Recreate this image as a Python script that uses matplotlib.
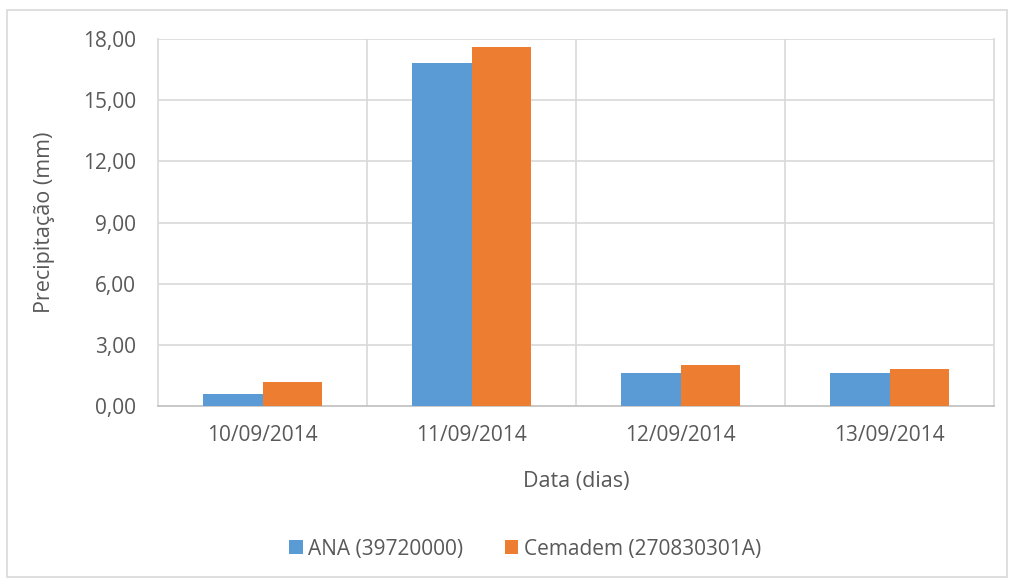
import matplotlib
matplotlib.use("Agg")
import matplotlib.pyplot as plt
from matplotlib.patches import Rectangle
import numpy as np

plt.rcParams['font.family'] = ['Open Sans', 'DejaVu Sans']

datas = ['10/09/2014', '11/09/2014', '12/09/2014', '13/09/2014']
ana = [0.6, 16.8, 1.6, 1.6]
cemadem = [1.2, 17.6, 2.0, 1.8]
series_names = ['ANA (39720000)', 'Cemadem (270830301A)']
yticks = [0, 3, 6, 9, 12, 15, 18]

cor_ana = '#5b9bd5'
cor_cem = '#ed7d31'
cor_txt = '#595959'
cor_grid = '#d9d9d9'

W, H = 1009, 579
fig = plt.figure(figsize=(W / 100, H / 100), dpi=100)
# posicao da area de plotagem em pixels
left, right, top, bottom = 158, 994, 39, 406
ax = fig.add_axes([left / W, 1 - bottom / H, (right - left) / W, (bottom - top) / H])

# borda externa do grafico
fig.patches.append(Rectangle((7 / W, 2 / H), 1000 / W, 567 / H, transform=fig.transFigure,
                             fill=False, edgecolor=cor_grid, linewidth=1.2))

x = np.arange(len(datas))
w = 0.286
ax.bar(x - w / 2, ana, w, color=cor_ana, label=series_names[0], zorder=3)
ax.bar(x + w / 2, cemadem, w, color=cor_cem, label=series_names[1], zorder=3)

ax.set_xlim(-0.5, len(datas) - 0.5)
ax.set_ylim(0, 18)
ax.set_yticks(yticks)
ax.set_yticklabels([f'{v:.2f}'.replace('.', ',') for v in yticks])
ax.set_xticks(x)
ax.set_xticklabels(datas)

# linhas de grade: horizontais e separadores de categoria
for v in yticks[1:]:
    ax.axhline(v, color=cor_grid, linewidth=1.2, zorder=1)
for b in np.arange(0.5, len(datas) - 0.5, 1):
    ax.axvline(b, color=cor_grid, linewidth=1.2, zorder=1)

ax.spines['top'].set_visible(False)
for s in ['left', 'bottom', 'right']:
    ax.spines[s].set_color(cor_grid)
    ax.spines[s].set_linewidth(1.2)
ax.spines['bottom'].set_color('#bfbfbf')

ax.tick_params(axis='both', length=0, labelsize=15, colors=cor_txt)
ax.tick_params(axis='y', pad=16)
ax.tick_params(axis='x', pad=14)

ax.set_xlabel('Data (dias)', fontsize=15.5, color=cor_txt, labelpad=18)
ax.set_ylabel('Precipitação (mm)', fontsize=15.5, color=cor_txt, labelpad=20)

leg = fig.legend(loc='center', bbox_to_anchor=(525 / W, 1 - 549 / H), ncol=2, frameon=False,
                 fontsize=15, handlelength=0.65, handleheight=0.65, columnspacing=2.0,
                 handletextpad=0.25, labelcolor=cor_txt)

fig.savefig('out.png', dpi=100)
